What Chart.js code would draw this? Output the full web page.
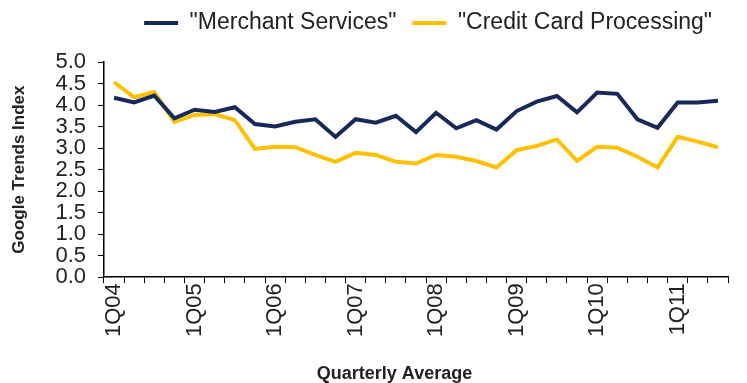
<!DOCTYPE html>
<html>
<head>
<meta charset="utf-8">
<script src="https://cdn.jsdelivr.net/npm/chart.js@4.4.0/dist/chart.umd.min.js"></script>
<style>
  html, body { margin: 0; padding: 0; background: #fff; overflow: hidden; }
  #wrap { width: 747px; height: 383px; overflow: hidden; }
</style>
</head>
<body>
<div id="wrap"><canvas id="chart" width="754" height="383"></canvas></div>
<script>
const quarters = [
  '1Q04', '2Q04', '3Q04', '4Q04',
  '1Q05', '2Q05', '3Q05', '4Q05',
  '1Q06', '2Q06', '3Q06', '4Q06',
  '1Q07', '2Q07', '3Q07', '4Q07',
  '1Q08', '2Q08', '3Q08', '4Q08',
  '1Q09', '2Q09', '3Q09', '4Q09',
  '1Q10', '2Q10', '3Q10', '4Q10',
  '1Q11', '2Q11', '3Q11'
];
const merchantServices = [
  4.17, 4.06, 4.22, 3.69, 3.89, 3.84, 3.95, 3.56, 3.50, 3.61, 3.67, 3.26, 3.67,
  3.59, 3.75, 3.37, 3.82, 3.46, 3.65, 3.43, 3.86, 4.08, 4.21, 3.83, 4.29, 4.26,
  3.67, 3.47, 4.06, 4.06, 4.10
];
const creditCardProcessing = [
  4.53, 4.18, 4.30, 3.61, 3.77, 3.79, 3.65, 2.98, 3.03, 3.02, 2.84, 2.68, 2.89,
  2.84, 2.68, 2.64, 2.84, 2.80, 2.70, 2.55, 2.95, 3.05, 3.20, 2.70, 3.03, 3.01,
  2.80, 2.55, 3.26, 3.15, 3.02
];
const yTickLabels = ['0.0', '0.5', '1.0', '1.5', '2.0', '2.5', '3.0', '3.5', '4.0', '4.5', '5.0'];

const navy = '#17285A';
const gold = '#FFC000';
const textColor = '#222';
const fontFamily = '"Liberation Sans", Arial, sans-serif';

const ctx = document.getElementById('chart');

const chart = new Chart(ctx, {
  type: 'line',
  data: {
    labels: quarters,
    datasets: [
      {
        label: '"Merchant Services"',
        data: merchantServices,
        borderColor: navy,
        backgroundColor: navy,
        borderWidth: 4,
        pointRadius: 0,
        pointStyle: 'line',
        tension: 0
      },
      {
        label: '"Credit Card Processing"',
        data: creditCardProcessing,
        borderColor: gold,
        backgroundColor: gold,
        borderWidth: 4,
        pointRadius: 0,
        pointStyle: 'line',
        tension: 0
      }
    ]
  },
  options: {
    responsive: false,
    animation: false,
    layout: {
      // plot runs off the right edge like in the original picture
      padding: { left: 9, right: -26, top: -4.5, bottom: 0 }
    },
    scales: {
      x: {
        type: 'category',
        offset: true,
        afterFit: function (scale) {
          scale.paddingLeft = 0;
          scale.paddingRight = 26;
        },
        grid: {
          display: true,
          drawOnChartArea: false,
          offset: true,
          tickLength: 6,
          color: '#000'
        },
        border: { display: true, color: '#000', width: 1.5 },
        ticks: {
          autoSkip: false,
          maxRotation: 90,
          minRotation: 90,
          padding: 0,
          color: textColor,
          font: { family: fontFamily, size: 22 },
          callback: function (value, index) {
            const q = quarters[index];
            return q.startsWith('1Q') ? q : '';
          }
        }
      },
      y: {
        min: 0,
        max: 5,
        grid: {
          display: true,
          drawOnChartArea: false,
          tickLength: 6,
          color: '#000'
        },
        border: { display: true, color: '#000', width: 1.5 },
        ticks: {
          stepSize: 0.5,
          autoSkip: false,
          padding: 12,
          color: textColor,
          font: { family: fontFamily, size: 22 },
          callback: function (value, index) {
            return yTickLabels[index];
          }
        },
        title: {
          display: true,
          text: 'Google Trends Index',
          color: textColor,
          font: { family: fontFamily, size: 17, weight: 'bold' },
          padding: { top: 0, bottom: 14 }
        }
      }
    },
    plugins: {
      legend: {
        display: true,
        position: 'top',
        align: 'end',
        fullSize: false,
        labels: {
          usePointStyle: true,
          pointStyleWidth: 34,
          boxHeight: 4,
          padding: 16,
          color: textColor,
          font: { family: fontFamily, size: 23 }
        }
      },
      // empty box: gap between the legend and the plot
      title: {
        display: true,
        text: '',
        position: 'top',
        fullSize: false,
        weight: 500,
        font: { size: 10, lineHeight: 1 },
        padding: { top: 7.5, bottom: 0 }
      },
      subtitle: {
        display: true,
        position: 'bottom',
        text: 'Quarterly Average',
        color: textColor,
        font: { family: fontFamily, size: 18, weight: 'bold', lineHeight: 1 },
        padding: { top: 28, bottom: 0 }
      },
      tooltip: { enabled: false }
    }
  }
});
</script>
</body>
</html>
